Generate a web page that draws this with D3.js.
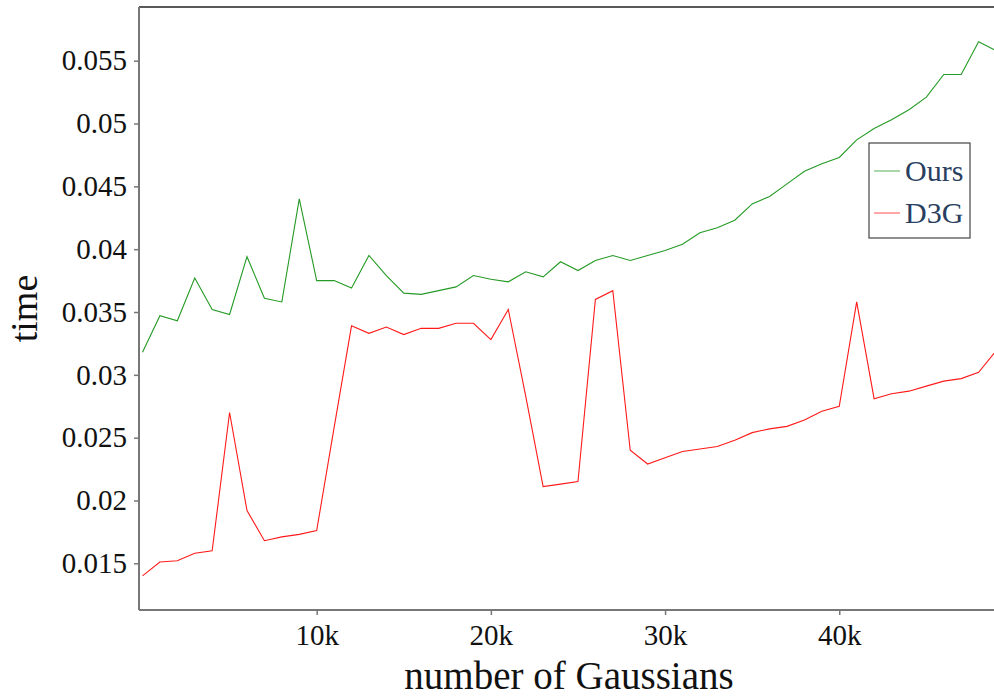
<!DOCTYPE html>
<html>
<head>
<meta charset="utf-8">
<script src="https://cdn.jsdelivr.net/npm/d3@7"></script>
<style>
  body { margin: 0; background: #fff; }
  svg { display: block; font-family: "Liberation Serif", "Times New Roman", serif; }
</style>
</head>
<body>
<svg width="994" height="696"></svg>
<script>
// number of Gaussians, in thousands
var counts = d3.range(0, 50);

var ours = [0.0318, 0.0347, 0.0343, 0.0377, 0.0352, 0.0348, 0.0394, 0.0361, 0.0358, 0.0440,
            0.0375, 0.0375, 0.0369, 0.0395, 0.0379, 0.0365, 0.0364, 0.0367, 0.0370, 0.0379,
            0.0376, 0.0374, 0.0382, 0.0378, 0.0390, 0.0383, 0.0391, 0.0395, 0.0391, 0.0395,
            0.0399, 0.0404, 0.0413, 0.0417, 0.0423, 0.0436, 0.0442, 0.0452, 0.0462, 0.0468,
            0.0473, 0.0487, 0.0496, 0.0503, 0.0511, 0.0521, 0.0539, 0.0539, 0.0565, 0.0558];

var d3g = [0.0140, 0.0151, 0.0152, 0.0158, 0.0160, 0.0270, 0.0192, 0.0168, 0.0171, 0.0173,
           0.0176, 0.0258, 0.0339, 0.0333, 0.0338, 0.0332, 0.0337, 0.0337, 0.0341, 0.0341,
           0.0328, 0.0352, 0.0283, 0.0211, 0.0213, 0.0215, 0.0360, 0.0367, 0.0240, 0.0229,
           0.0234, 0.0239, 0.0241, 0.0243, 0.0248, 0.0254, 0.0257, 0.0259, 0.0264, 0.0271,
           0.0275, 0.0358, 0.0281, 0.0285, 0.0287, 0.0291, 0.0295, 0.0297, 0.0302, 0.0319];

var yTicks = [0.015, 0.02, 0.025, 0.03, 0.035, 0.04, 0.045, 0.05, 0.055];
var xTicks = [10000, 20000, 30000, 40000];

var series = [
    {name: 'Ours', values: ours, color: '#259a25'},
    {name: 'D3G', values: d3g, color: '#ff1a1a'}
];

var plotLeft = 139, plotRight = 999, plotTop = 7, plotBottom = 610;

var svg = d3.select('svg');

var x = d3.scaleLinear()
    .domain([-200, 49170])
    .range([plotLeft, plotRight]);

var y = d3.scaleLinear()
    .domain([0.011283, 0.059274])
    .range([plotBottom, plotTop]);

// top frame line
svg.append('line')
    .attr('x1', plotLeft).attr('x2', plotRight)
    .attr('y1', plotTop).attr('y2', plotTop)
    .attr('stroke', '#222')
    .attr('stroke-width', 1.3);

var yAxis = svg.append('g')
    .attr('transform', 'translate(' + plotLeft + ',0)')
    .call(d3.axisLeft(y).tickValues(yTicks).tickSize(5).tickPadding(7)
        .tickFormat(function(d) { return String(+d.toFixed(3)); }));

var xAxis = svg.append('g')
    .attr('transform', 'translate(0,' + plotBottom + ')')
    .call(d3.axisBottom(x).tickValues(xTicks).tickSize(5).tickPadding(9)
        .tickFormat(function(d) { return (d / 1000) + 'k'; }));

[yAxis, xAxis].forEach(function(g) {
    g.select('.domain').attr('stroke', '#777').attr('stroke-width', 2);
    g.selectAll('.tick line').attr('stroke', '#777').attr('stroke-width', 1.5);
    g.selectAll('.tick text')
        .attr('fill', '#111')
        .style('font-family', '"Liberation Serif", serif')
        .style('font-size', '29px');
});
yAxis.select('.domain').attr('d', 'M0,' + plotTop + 'V' + plotBottom);
xAxis.select('.domain').attr('d', 'M' + plotLeft + ',0H' + plotRight);

var line = d3.line()
    .x(function(d, i) { return x(counts[i] * 1000); })
    .y(function(d) { return y(d); });

series.forEach(function(s) {
    svg.append('path')
        .datum(s.values)
        .attr('d', line)
        .attr('fill', 'none')
        .attr('stroke', s.color)
        .attr('stroke-width', 1.1);
});

// axis titles
svg.append('text')
    .text('number of Gaussians')
    .attr('x', (plotLeft + plotRight) / 2)
    .attr('y', 689)
    .attr('text-anchor', 'middle')
    .attr('font-size', 39)
    .attr('fill', '#111');

svg.append('text')
    .text('time')
    .attr('transform', 'translate(37,' + (plotTop + plotBottom) / 2 + ') rotate(-90)')
    .attr('text-anchor', 'middle')
    .attr('font-size', 38)
    .attr('fill', '#111');

// legend
var legend = svg.append('g')
    .attr('transform', 'translate(869,143)');

legend.append('rect')
    .attr('x', 0).attr('y', 0)
    .attr('width', 101).attr('height', 95)
    .attr('fill', '#fff')
    .attr('stroke', '#444')
    .attr('stroke-width', 1.2);

series.forEach(function(s, i) {
    var ly = 28 + i * 42;
    legend.append('line')
        .attr('x1', 5).attr('x2', 31)
        .attr('y1', ly).attr('y2', ly)
        .attr('stroke', s.color)
        .attr('stroke-width', 1.1)
        .attr('opacity', 0.7);
    legend.append('text')
        .text(s.name)
        .attr('x', 36)
        .attr('y', ly + 10)
        .attr('font-size', 30)
        .attr('fill', '#2a3f5f');
});
</script>
</body>
</html>
